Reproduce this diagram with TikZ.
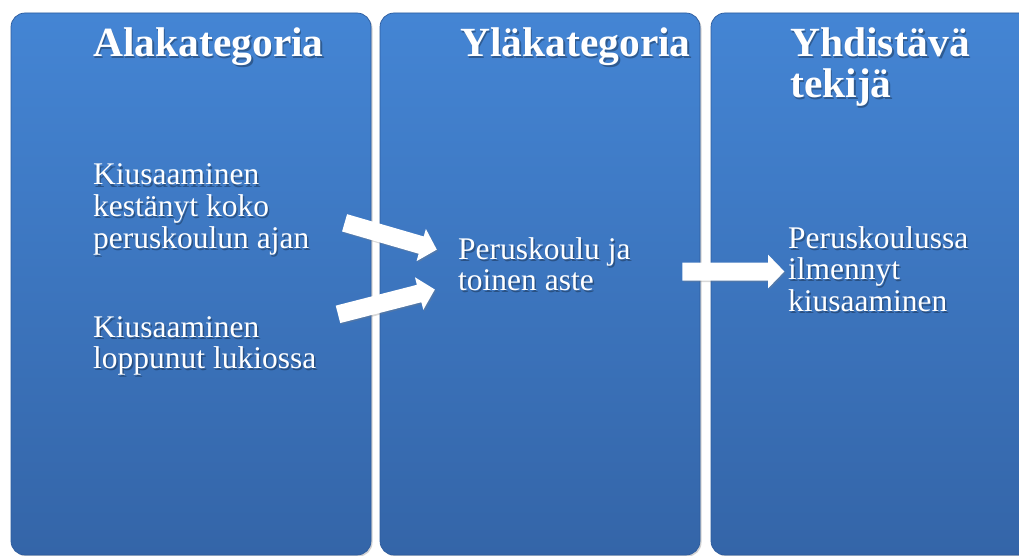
\documentclass[tikz,border=0pt]{standalone}
\usepackage{fontspec}
\setmainfont{Liberation Serif}
\usetikzlibrary{shapes.arrows,shadows}

\definecolor{paneltop}{RGB}{68,133,212}
\definecolor{panelmid}{RGB}{61,123,201}
\definecolor{panelbot}{RGB}{52,101,168}
\definecolor{paneledge}{RGB}{45,92,158}

\newcommand\headfont{\bfseries\fontsize{41.5}{40}\selectfont}
\newcommand\bodyfont{\fontsize{31.5}{31.8}\selectfont}

% white text with a soft dark copy underneath
\newcommand\shadowtext[4]{%
  \node[txtshadow,font=#3,xshift=1.5pt,yshift=-2pt] (#1-sh) at (#2)
    {\begin{tabular}[t]{@{}l@{}}#4\end{tabular}};
  \node[txtmain,font=#3] (#1) at (#2)
    {\begin{tabular}[t]{@{}l@{}}#4\end{tabular}};
}

\begin{document}
\begin{tikzpicture}[x=1pt,y=-1pt,
  panel/.style={draw=paneledge, line width=0.7pt, rounded corners=14pt,
    top color=paneltop, middle color=panelmid, bottom color=panelbot,
    inner sep=0pt, minimum height=542pt,
    drop shadow={shadow xshift=1.5pt, shadow yshift=-1.5pt, opacity=0.35}},
  txtmain/.style={text=white, anchor=base west, inner sep=0pt},
  txtshadow/.style={text=black, opacity=0.3, anchor=base west, inner sep=0pt},
  blockarrow/.style={single arrow, fill=white, draw=none, inner sep=8.8pt,
    single arrow head extend=7.8pt, single arrow tip angle=92,
    single arrow head indent=0pt,
    drop shadow={shadow xshift=1.2pt, shadow yshift=-1.5pt, opacity=0.3}}
]
\useasboundingbox (0,0) rectangle (1019,556);
\fill[white] (0,0) rectangle (1019,556);

% the three columns
\node[panel, minimum width=360pt] (p1) at (191,284) {};
\node[panel, minimum width=320pt] (p2) at (540,284) {};
\node[panel, minimum width=330pt] (p3) at (876,284) {};

% column headings
\shadowtext{h1}{93,57}{\headfont}{Alakategoria}
\shadowtext{h2}{460,57}{\headfont}{Yläkategoria}
\shadowtext{h3}{790,57}{\headfont}{Yhdistävä\\[-0.5pt]tekijä}

% column contents
\shadowtext{a1}{93,185}{\bodyfont}{Kiusaaminen\\kestänyt koko\\peruskoulun ajan}
\shadowtext{a2}{93,337}{\bodyfont}{Kiusaaminen\\loppunut lukiossa}
\shadowtext{b1}{458,259}{\bodyfont}{Peruskoulu ja\\toinen aste}
\shadowtext{c1}{788,248}{\bodyfont}{Peruskoulussa\\ilmennyt\\kiusaaminen}

% block arrows
\node[blockarrow, minimum height=96pt, rotate=-16.2] (ar1) at (386.5,235) {};
\node[blockarrow, minimum height=100pt, rotate=14.4] (ar2) at (382.2,303) {};
\node[blockarrow, minimum height=102pt] (ar3) at (729,271.5) {};
\end{tikzpicture}
\end{document}
